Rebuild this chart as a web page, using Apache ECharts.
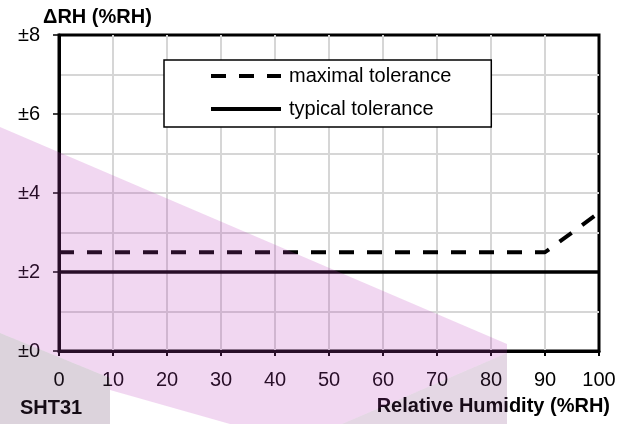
<!DOCTYPE html>
<html>
<head>
<meta charset="utf-8">
<script src="https://cdn.jsdelivr.net/npm/echarts@6/dist/echarts.min.js"></script>
<style>
  html, body { margin: 0; padding: 0; background: #fff; }
  #chart { width: 632px; height: 424px; }
</style>
</head>
<body>
<div id="chart"></div>
<script>
// === data ===
const seriesNames = ['maximal tolerance', 'typical tolerance']
const maxRH = [0, 90, 100]
const maxTol = [2.5, 2.5, 3.5]
const typRH = [0, 100]
const typTol = [2, 2]
const yTitle = 'ΔRH (%RH)'
const xTitle = 'Relative Humidity (%RH)'
const sensorName = 'SHT31'

const FONT = "'Liberation Sans', Arial, sans-serif"

const pairs = (xs, ys) => xs.map((x, i) => [x, ys[i]])

const chart = echarts.init(document.getElementById('chart'))

// grid lines, kept off the frame so the black border stays thick
const gridLine = { show: true, showMinLine: false, showMaxLine: false, lineStyle: { color: '#d6d6d6', width: 2 } }

const option = {
  animation: false,
  grid: {
    left: 59, right: 33, top: 35, bottom: 73,
    show: true, borderColor: '#000', borderWidth: 3
  },
  legend: {
    orient: 'vertical',
    left: 164, top: 60,
    padding: [6, 40, 8, 45],
    itemGap: 13,
    itemWidth: 70, itemHeight: 14,
    backgroundColor: '#fff',
    borderColor: '#000', borderWidth: 1.5,
    selectedMode: false,
    data: seriesNames,
    itemStyle: { opacity: 0 },
    lineStyle: { width: 4 },
    textStyle: { fontFamily: FONT, fontSize: 20, lineHeight: 20, color: '#000', padding: [0, 0, 0, 3] }
  },
  xAxis: {
    type: 'value', min: 0, max: 100, interval: 10,
    name: xTitle,
    nameLocation: 'end', nameGap: 11,
    nameTextStyle: {
      fontFamily: FONT, fontSize: 20, fontWeight: 'bold', color: '#000',
      align: 'right', verticalAlign: 'top', padding: [45, 0, 0, 0]
    },
    axisLine: { show: true, lineStyle: { color: '#000', width: 3 } },
    axisTick: { show: true, inside: false, length: 5, lineStyle: { color: '#000', width: 2 } },
    axisLabel: { fontFamily: FONT, fontSize: 20, color: '#000', margin: 19 },
    splitLine: gridLine
  },
  yAxis: {
    type: 'value', min: 0, max: 8, interval: 2,
    axisLine: { show: true, lineStyle: { color: '#000', width: 3 } },
    axisTick: { show: true, inside: false, length: 6, lineStyle: { color: '#000', width: 1.5 } },
    axisLabel: { fontFamily: FONT, fontSize: 20, color: '#000', margin: 19, formatter: v => '±' + v },
    splitLine: gridLine,
    minorTick: { show: false, splitNumber: 2 },
    minorSplitLine: { show: true, lineStyle: { color: '#d6d6d6', width: 2 } }
  },
  series: [
    {
      name: seriesNames[0], type: 'line', symbol: 'none',
      data: pairs(maxRH, maxTol),
      itemStyle: { color: '#000' },
      lineStyle: { color: '#000', width: 4, type: [15, 13] },
      z: 3
    },
    {
      name: seriesNames[1], type: 'line', symbol: 'none',
      data: pairs(typRH, typTol),
      itemStyle: { color: '#000' },
      lineStyle: { color: '#000', width: 3.5 }
    }
  ],
  graphic: [
    {
      type: 'text', left: 43, top: 7, z: 50,
      style: { text: yTitle, font: 'bold 20px ' + FONT, fill: '#000' }
    },
    {
      type: 'text', left: 20, top: 398, z: 50,
      style: { text: sensorName, font: 'bold 20px ' + FONT, fill: '#000' }
    },
    // watermark shapes drawn over the chart
    {
      type: 'polygon', z: 100, silent: true,
      shape: { points: [[0, 127], [507, 344], [507, 353], [342, 424], [230, 424], [110, 390], [110, 378], [0, 333]] },
      style: { fill: 'rgba(190,68,190,0.21)' }
    },
    {
      type: 'polygon', z: 100, silent: true,
      shape: { points: [[0, 333], [110, 378], [110, 424], [0, 424]] },
      style: { fill: 'rgba(95,55,95,0.22)' }
    },
    {
      type: 'polygon', z: 100, silent: true,
      shape: { points: [[342, 424], [507, 353], [507, 424]] },
      style: { fill: 'rgba(120,55,120,0.2)' }
    }
  ]
}

chart.setOption(option)
window.addEventListener('resize', () => chart.resize())
</script>
</body>
</html>
